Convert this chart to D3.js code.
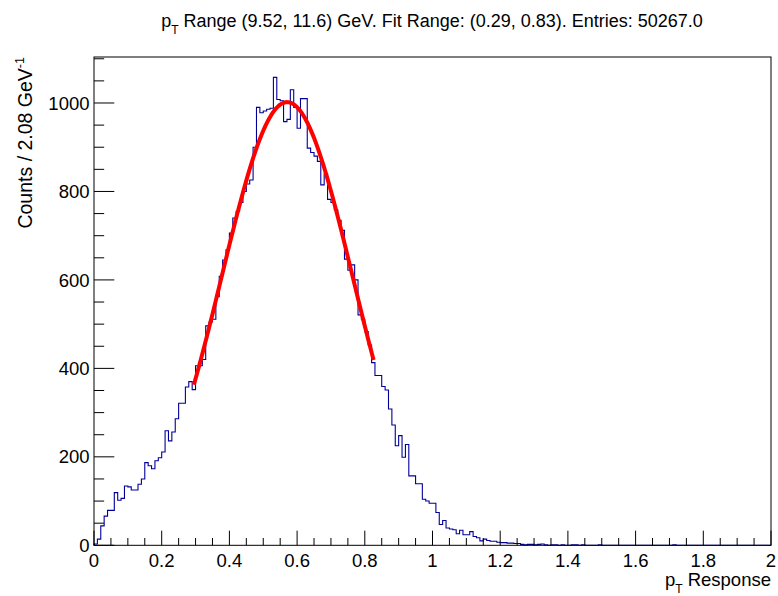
<!DOCTYPE html>
<html><head><meta charset="utf-8">
<script src="https://cdn.jsdelivr.net/npm/d3@7"></script>
<style>
body{margin:0;background:#fff;}
text{font-family:"Liberation Sans",Arial,Helvetica,sans-serif;fill:#000;}
</style>
</head><body>
<svg id="chart" width="778" height="596"></svg>
<script>
// ---- data ----
const binLow = 0, binHigh = 2, binWidth = 0.01;
const counts = [
  3,14,44,66,79,79,119,102,106,134,
  132,125,125,138,150,187,180,173,191,198,
  211,259,236,256,286,321,321,358,370,352,
  406,406,420,496,505,511,562,608,645,668,
  706,740,755,775,800,817,826,900,990,978,
  982,986,988,1058,1008,1005,958,963,1030,990,
  943,1010,1010,898,888,880,868,815,840,782,
  775,759,735,712,647,622,634,600,521,510,
  483,453,413,384,384,359,351,308,272,225,
  248,199,228,157,157,139,139,104,100,95,
  95,74,47,56,39,37,35,26,34,24,
  24,31,20,17,10,14,11,9,9,7,
  6,6,5,5,4,4,2,1,2,2,
  1,2,3,1,0,1,1,0,1,0,
  0,1,1,0,1,0,0,0,0,1,
  0,0,0,0,0,0,0,0,0,0,
  0,0,0,0,0,0,0,0,0,0,
  0,1,0,0,0,0,0,0,0,0,
  0,0,0,0,0,0,0,0,0,0,
  0,0,0,0,0,0,0,0,0,0
];
const xTickValues = [0,0.2,0.4,0.6,0.8,1,1.2,1.4,1.6,1.8,2];
const xTickLabels = ["0","0.2","0.4","0.6","0.8","1","1.2","1.4","1.6","1.8","2"];
const yTickValues = [0,200,400,600,800,1000];
const yTickLabels = ["0","200","400","600","800","1000"];
const yMax = 1104;
// Gaussian fit parameters
const fitConst = 1002, fitMean = 0.5706, fitSigma = 0.1934;
const fitRange = [0.295, 0.826];

// ---- layout ----
const W = 778, H = 596;
const L = 94, R = 771, T = 57, B = 545.3;
const svg = d3.select("#chart");
svg.append("rect").attr("width",W).attr("height",H).attr("fill","#fff");

const x = d3.scaleLinear().domain([binLow, binHigh]).range([L, R]);
const y = d3.scaleLinear().domain([0, yMax]).range([B, T]);

// histogram outline
const pts = [[binLow, 0]];
counts.forEach((c, i) => {
  const lo = binLow + i*binWidth, hi = lo + binWidth;
  pts.push([lo, c]); pts.push([hi, c]);
});
pts.push([binHigh, 0]);
svg.append("path")
  .datum(pts)
  .attr("d", d3.line().x(d => x(d[0])).y(d => y(d[1])))
  .attr("fill","none").attr("stroke","#000099").attr("stroke-width",1.1);

// fit curve
const nPts = 100;
const fitPts = d3.range(nPts+1).map(i => {
  const xv = fitRange[0] + (fitRange[1]-fitRange[0])*i/nPts;
  return [xv, fitConst*Math.exp(-0.5*Math.pow((xv-fitMean)/fitSigma,2))];
});
svg.append("path")
  .datum(fitPts)
  .attr("d", d3.line().x(d => x(d[0])).y(d => y(d[1])))
  .attr("fill","none").attr("stroke","#ff0000").attr("stroke-width",4)
  .attr("stroke-linejoin","round");

// frame
svg.append("rect").attr("x",L).attr("y",T).attr("width",R-L).attr("height",B-T)
  .attr("fill","none").attr("stroke","#000").attr("stroke-width",1);

// x axis ticks
const xMinor = d3.range(0, 40.5, 1).map(i => i*0.05);
const xMajLen = 14.6, xMinLen = 7.3;
const gx = svg.append("g");
xMinor.forEach(v => {
  const isMaj = Math.abs(v/0.2 - Math.round(v/0.2)) < 1e-6;
  gx.append("line").attr("x1",x(v)).attr("x2",x(v))
    .attr("y1",B).attr("y2",B-(isMaj?xMajLen:xMinLen))
    .attr("stroke","#000").attr("stroke-width",1);
});
xTickValues.forEach((v,i) => {
  gx.append("text").attr("x",x(v)).attr("y",567)
    .attr("text-anchor","middle").attr("font-size",18.5).text(xTickLabels[i]);
});

// y axis ticks
const yMinor = d3.range(0, 22.1, 1).map(i => i*50).filter(v => v <= yMax);
const yMajLen = 20.3, yMinLen = 10.15;
const gy = svg.append("g");
yMinor.forEach(v => {
  const isMaj = v % 200 === 0;
  gy.append("line").attr("x1",L).attr("x2",L+(isMaj?yMajLen:yMinLen))
    .attr("y1",y(v)).attr("y2",y(v)).attr("stroke","#000").attr("stroke-width",1);
});
yTickValues.forEach((v,i) => {
  gy.append("text").attr("x",89.5).attr("y",y(v)).attr("dy","0.36em")
    .attr("text-anchor","end").attr("font-size",18.5).text(yTickLabels[i]);
});

// x axis title
const xt = svg.append("text").attr("x",R).attr("y",586).attr("text-anchor","end").attr("font-size",18.5);
xt.append("tspan").text("p");
xt.append("tspan").attr("font-size",12).attr("dy",7).text("T");
xt.append("tspan").attr("dy",-7).text(" Response");

// y axis title
const yt = svg.append("text").attr("transform","translate(32,57) rotate(-90)")
  .attr("text-anchor","end").attr("font-size",19.5);
yt.append("tspan").text("Counts / 2.08 GeV");
yt.append("tspan").attr("font-size",12.5).attr("dy",-8).text("-1");

// main title
const tt = svg.append("text").attr("x",432).attr("y",27).attr("text-anchor","middle").attr("font-size",18);
tt.append("tspan").text("p");
tt.append("tspan").attr("font-size",12).attr("dy",7).text("T");
tt.append("tspan").attr("dy",-7).text(" Range (9.52, 11.6) GeV. Fit Range: (0.29, 0.83). Entries: 50267.0");
</script>
</body></html>
